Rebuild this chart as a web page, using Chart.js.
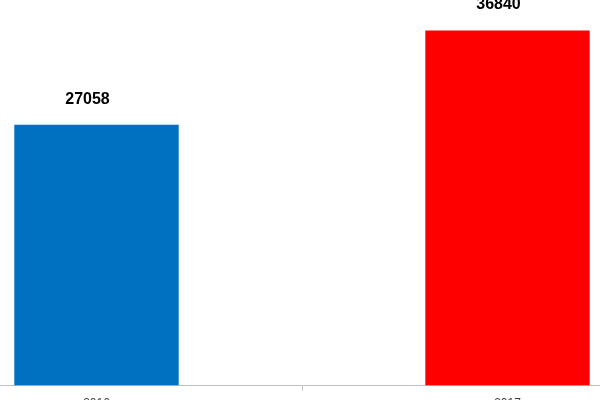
<!DOCTYPE html>
<html>
<head>
<meta charset="utf-8">
<script src="https://cdn.jsdelivr.net/npm/chart.js@4"></script>
<style>
  html, body { margin: 0; padding: 0; background: #fff; overflow: hidden; width: 600px; height: 400px; }
  #wrap { position: absolute; left: -109px; top: -40px; width: 822px; height: 457px; }
</style>
</head>
<body>
<div id="wrap"><canvas id="chart"></canvas></div>
<script>
// values
const years = ["2016", "2017"];
const totals = [27058, 36840];
const barColors = ["#0070C0", "#FF0000"];

// value labels above each bar
const valueLabels = {
  id: "valueLabels",
  afterDatasetsDraw(chart) {
    const ctx = chart.ctx;
    const meta = chart.getDatasetMeta(0);
    ctx.save();
    ctx.font = "bold 16px 'Liberation Sans', Arial, sans-serif";
    ctx.fillStyle = "#000";
    ctx.textAlign = "center";
    ctx.textBaseline = "alphabetic";
    meta.data.forEach((bar, i) => {
      ctx.fillText(String(totals[i]), bar.x - 9, bar.y - 21);
    });
    ctx.restore();
  }
};

new Chart(document.getElementById("chart"), {
  type: "bar",
  data: {
    labels: years,
    datasets: [{
      data: totals,
      backgroundColor: barColors,
      borderWidth: 0,
      categoryPercentage: 1,
      barPercentage: 0.4
    }]
  },
  options: {
    responsive: true,
    maintainAspectRatio: false,
    animation: false,
    layout: { padding: { top: 40, left: 0, right: 0, bottom: 0 } },
    plugins: {
      legend: { display: false },
      tooltip: { enabled: false }
    },
    scales: {
      x: {
        grid: { drawOnChartArea: false, drawTicks: true, tickLength: 5, color: "#c0c0c0", offset: true },
        border: { display: true, color: "#c0c0c0", width: 1 },
        ticks: { color: "#404040", font: { size: 12, family: "'Liberation Sans', Arial, sans-serif" }, padding: 6 }
      },
      y: {
        display: false,
        min: 0,
        max: 40000
      }
    }
  },
  plugins: [valueLabels]
});
</script>
</body>
</html>
